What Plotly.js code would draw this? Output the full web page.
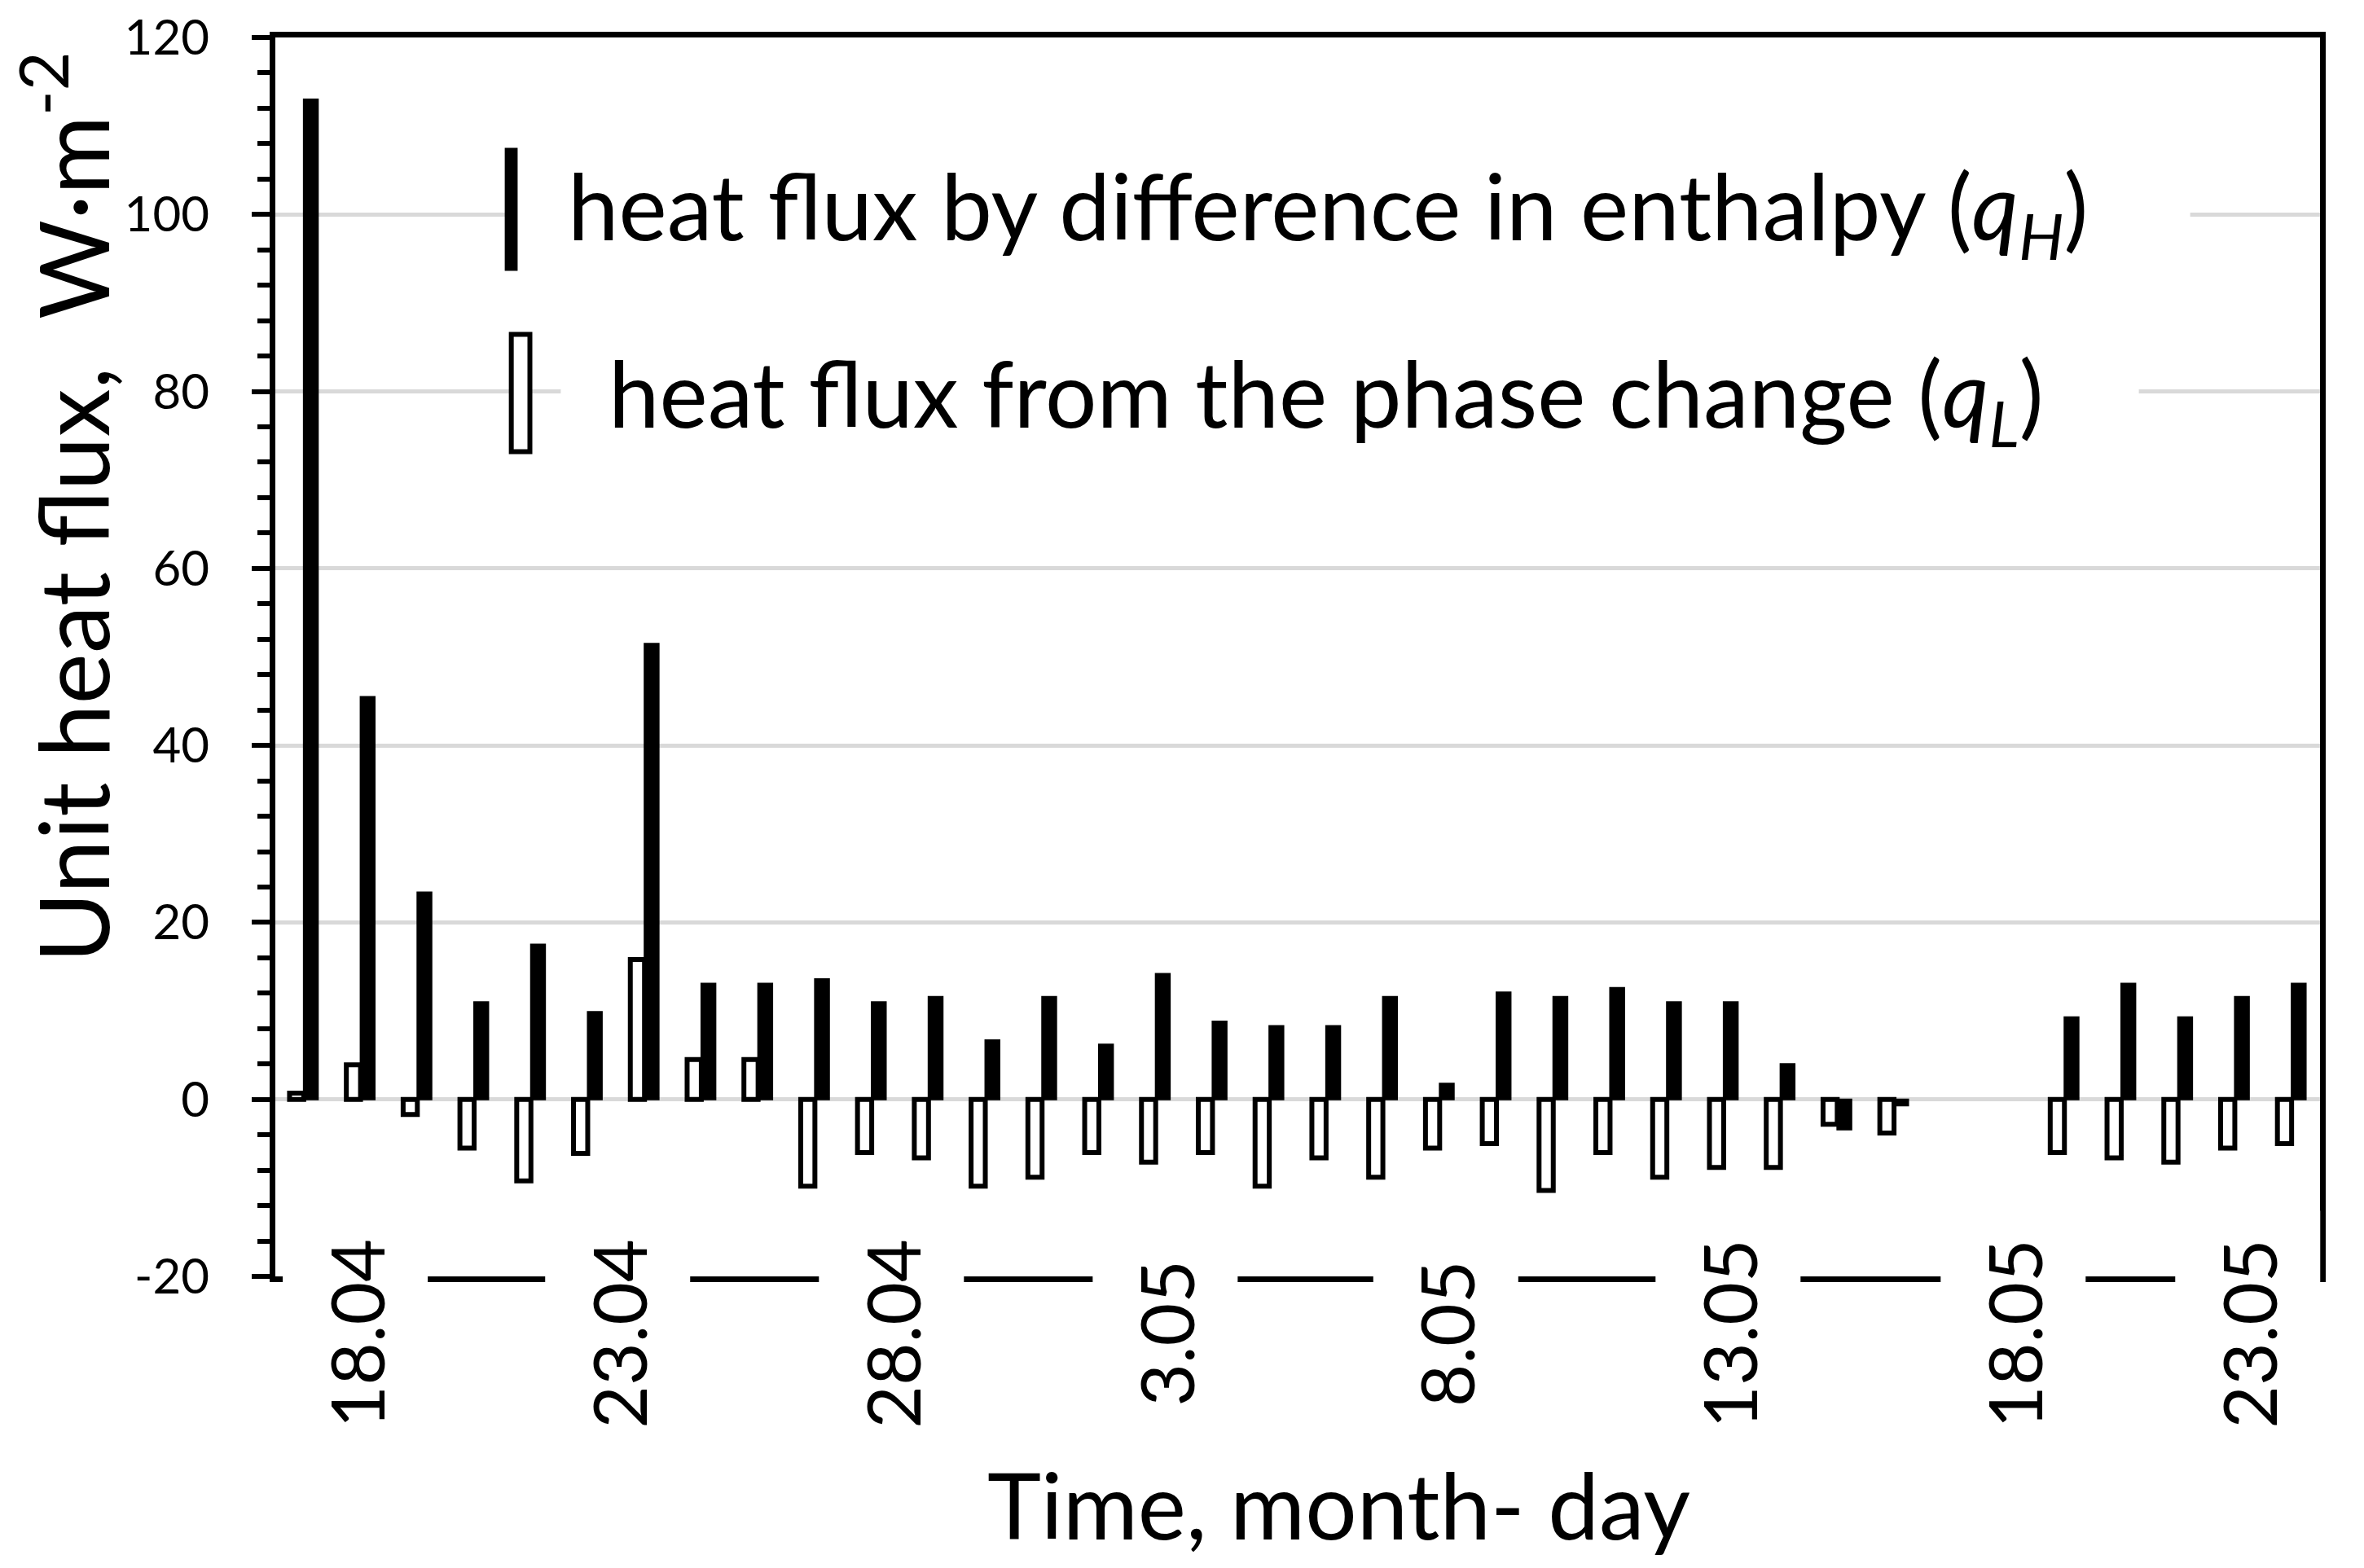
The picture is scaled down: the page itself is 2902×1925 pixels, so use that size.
<!DOCTYPE html>
<html>
<head>
<meta charset="utf-8">
<script src="https://cdn.plot.ly/plotly-3.0.1.min.js"></script>
<style>html,body{margin:0;padding:0;background:#fff;}#chart{width:2902px;height:1925px;}</style>
</head>
<body>
<div id="chart"></div>
<script>
// ---- data ----
var dayIndex = [0,1,2,3,4,5,6,7,8,9,10,11,12,13,14,15,16,17,18,19,20,21,22,23,24,25,26,27,28,29,30,31,32,33,34,35];
var qL = [0.7, 3.9, -1.7, -5.5, -9.2, -6.1, 15.8, 4.5, 4.5, -9.8, -6.0, -6.6, -9.8, -8.8, -6.0, -7.1, -6.0, -9.8,
          -6.6, -8.8, -5.5, -5.0, -10.3, -6.0, -8.8, -7.7, -7.7, -2.8, -3.8, null, null, -6.0, -6.6, -7.1, -5.5, -5.0];
var qH = [113, 45.5, 23.4, 11.0, 17.5, 9.9, 51.5, 13.1, 13.1, 13.6, 11.0, 11.6, 6.7, 11.6, 6.2, 14.2, 8.8, 8.3,
          8.3, 11.6, 1.8, 12.1, 11.6, 12.6, 11.0, 11.0, 4.0, -3.4, -0.7, null, null, 9.3, 13.1, 9.3, 11.6, 13.1];
var xTickLabels = ['18.04', '23.04', '28.04', '3.05', '8.05', '13.05', '18.05', '23.05'];
var xTickPos = [0.90, 5.52, 10.34, 15.16, 20.10, 25.07, 30.09, 34.22];
var yTickVals = [-20, 0, 20, 40, 60, 80, 100, 120];
var yTickText = ['-20', '0', '20', '40', '60', '80', '100', '120'];
var nameH = 'heat flux by difference in enthalpy (<i>q<sub>H</sub></i>)';
var nameL = 'heat flux from the phase change (<i>q<sub>L</sub></i>)';

var FONT = 'Lato, "Open Sans", sans-serif';

var traces = [
  {type: 'bar', name: nameL, x: dayIndex, y: qL,
   marker: {color: '#ffffff', line: {color: '#000000', width: 6}}, showlegend: false},
  {type: 'bar', name: nameH, x: dayIndex, y: qH,
   marker: {color: '#000000', line: {color: '#000000', width: 2}}, showlegend: false}
];

var annotations = xTickLabels.map(function (t, i) {
  return {text: t, x: xTickPos[i], y: -20, xref: 'x', yref: 'y', showarrow: false,
          textangle: -90, xanchor: 'center', yanchor: 'middle', yshift: -70,
          bgcolor: '#ffffff', borderpad: 34, font: {family: FONT, size: 91, color: '#000'}};
});
annotations.push(
  {text: nameH, xref: 'paper', yref: 'paper', x: 0.1428, y: 0.859, xanchor: 'left', yanchor: 'middle',
   showarrow: false, borderpad: 0, font: {family: FONT, size: 112, color: '#000'}},
  {text: nameL, xref: 'paper', yref: 'paper', x: 0.1624, y: 0.708, xanchor: 'left', yanchor: 'middle',
   showarrow: false, borderpad: 0, font: {family: FONT, size: 112, color: '#000'}},
  {text: 'Time, month- day', xref: 'paper', yref: 'paper', x: 0.520, y: -0.184,
   xanchor: 'center', yanchor: 'middle', showarrow: false, font: {family: FONT, size: 112, color: '#000'}},
  {text: 'Unit heat flux,  W·m<sup>-2</sup>', xref: 'paper', yref: 'paper', x: -0.1026, y: 0.621,
   textangle: -90, xanchor: 'center', yanchor: 'middle', showarrow: false, borderpad: 0,
   font: {family: FONT, size: 118, color: '#000'}}
);

var shapes = [
  // white backing boxes of the legend entries
  {type: 'rect', xref: 'paper', yref: 'paper', x0: 0.1129, x1: 0.9365, y0: 0.7873, y1: 0.9188,
   fillcolor: '#ffffff', line: {width: 0}, layer: 'above'},
  {type: 'rect', xref: 'paper', yref: 'paper', x0: 0.1396, x1: 0.9114, y0: 0.6361, y1: 0.7676,
   fillcolor: '#ffffff', line: {width: 0}, layer: 'above'},
  // legend symbols
  {type: 'rect', xref: 'paper', yref: 'paper', x0: 0.1122, x1: 0.1185, y0: 0.8116, y1: 0.9109,
   fillcolor: '#000000', line: {width: 0}, layer: 'above'},
  {type: 'rect', xref: 'paper', yref: 'paper', x0: 0.1154, x1: 0.1245, y0: 0.6657, y1: 0.7604,
   fillcolor: '#ffffff', line: {color: '#000000', width: 6}, layer: 'above'}
];

var layout = {
  width: 2902, height: 1925,
  margin: {l: 338, r: 54, t: 46, b: 358, pad: 0},
  paper_bgcolor: '#ffffff', plot_bgcolor: '#ffffff',
  font: {family: FONT, color: '#000'},
  barmode: 'group', bargap: 0.5, bargroupgap: 0,
  showlegend: false,
  xaxis: {range: [-0.5, 35.5], showline: true, linecolor: '#000', linewidth: 7, mirror: true,
          showticklabels: false, ticks: '', showgrid: false, zeroline: false, fixedrange: true},
  yaxis: {range: [-20, 120], tickmode: 'array', tickvals: yTickVals, ticktext: yTickText,
          showline: true, linecolor: '#000', linewidth: 7, mirror: true,
          ticks: 'outside', ticklen: 22, tickwidth: 6, tickcolor: '#000',
          minor: {dtick: 4, tick0: 0, ticks: 'outside', ticklen: 15, tickwidth: 6, tickcolor: '#000', showgrid: false},
          showgrid: true, gridcolor: '#d9d9d9', gridwidth: 5, zeroline: false,
          tickfont: {family: FONT, size: 60, color: '#000'}, ticklabelstandoff: 40, fixedrange: true},
  annotations: annotations,
  shapes: shapes
};

Plotly.newPlot('chart', traces, layout, {displayModeBar: false, staticPlot: true});
</script>
</body>
</html>
